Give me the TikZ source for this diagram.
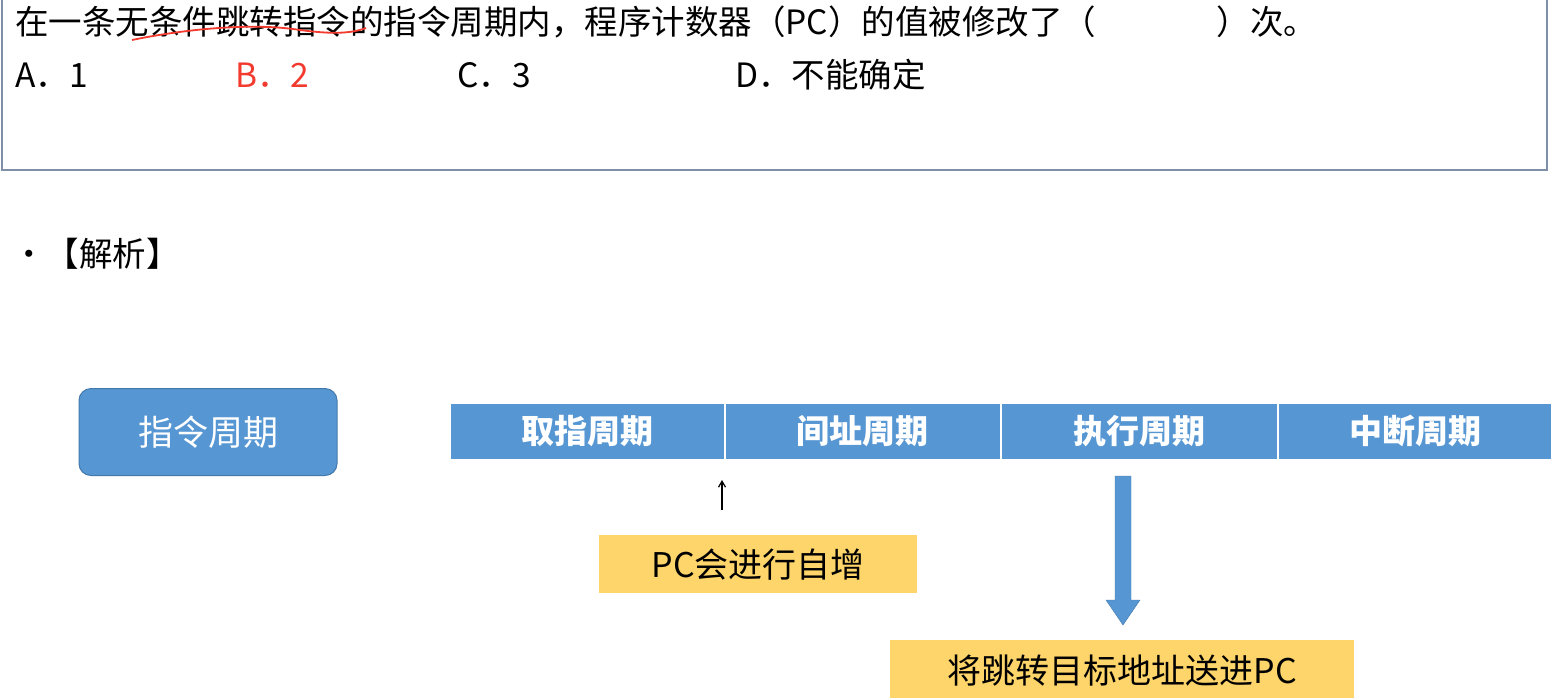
\documentclass[tikz,border=0pt]{standalone}
\usepackage{fontspec}
\setmainfont{Noto Sans CJK SC}
\usetikzlibrary{arrows.meta}
\definecolor{cblue}{HTML}{5596D3}
\definecolor{cyel}{HTML}{FED56A}
\definecolor{cred}{HTML}{F23A2E}
\definecolor{cframe}{HTML}{7F8FA8}
\begin{document}
\begin{tikzpicture}[x=1pt,y=-1pt,
  cyc/.style={fill=cblue,draw=white,line width=1.5pt,text=white,font=\fontsize{33}{36}\selectfont\bfseries,anchor=north west,inner sep=0pt,minimum height=57pt},
  ybox/.style={fill=cyel,anchor=north west,inner sep=0pt,font=\fontsize{34}{36}\selectfont},
  txt/.style={anchor=west,inner sep=0pt,font=\fontsize{33.5}{36}\selectfont}]
\useasboundingbox (0,0) rectangle (1551,697);
\draw[draw=cframe,line width=1.5pt] (2,-5) rectangle (1547,170);
\node[txt] (q) at (15,22) {在一条无条件跳转指令的指令周期内，程序计数器（PC）的值被修改了（\hspace{3.6em}）次。};
\draw[cred,line width=1.8pt] (132,40) .. controls (180,30) and (250,22) .. (300,30) .. controls (330,34) and (350,34) .. (366,28);
\node[txt] (a) at (15,75) {A．1};
\node[txt,text=cred] (b) at (235,75) {B．2};
\node[txt] (c) at (457,75) {C．3};
\node[txt] (d) at (735,75) {D．不能确定};
\node[txt] (jx) at (12,254) {•【解析】};
\node[fill=cblue,draw=cblue!80!black,line width=1pt,rounded corners=12pt,minimum width=258pt,minimum height=87pt,text=white,font=\fontsize{35}{38}\selectfont] (zl) at (208,432) {指令周期};
\node[cyc,minimum width=275pt] (c1) at (449,402) {取指周期};
\node[cyc,minimum width=276pt] (c2) at (724,402) {间址周期};
\node[cyc,minimum width=277pt] (c3) at (1000,402) {执行周期};
\node[cyc,minimum width=276pt] (c4) at (1277,402) {中断周期};
\coordinate (s1) at (722,510);
\coordinate (s2) at (722,480);
\draw[-{Straight Barb[length=6pt,width=7pt]},line width=1.2pt] (s1) -- (s2);
\node[ybox,minimum width=318pt,minimum height=58pt] (y1) at (599,535) {PC会进行自增};
\node[ybox,minimum width=464pt,minimum height=60pt] (y2) at (890,640) {将跳转目标地址送进PC};
\fill[cblue,draw=cblue!80!black] (1115,476) -- (1131,476) -- (1131,600) -- (1140,600) -- (1123,625) -- (1106,600) -- (1115,600) -- cycle;
\end{tikzpicture}
\end{document}
